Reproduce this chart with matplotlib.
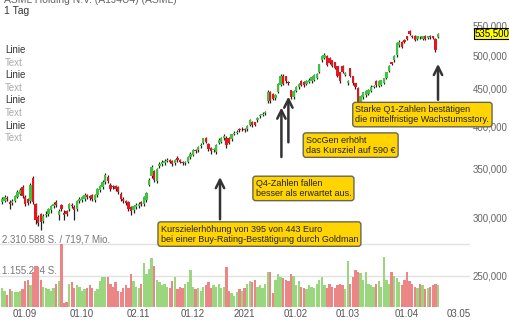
import numpy as np
import pandas as pd
import matplotlib
matplotlib.use('Agg')
import matplotlib.pyplot as plt
from matplotlib.ticker import FixedLocator, NullLocator, FuncFormatter

plt.rcParams['font.family'] = ['Liberation Sans', 'DejaVu Sans']

# daily candles, ASML (EUR), 19.08.2020 - 21.04.2021
opens = [315, 316, 319, 315, 314, 316, 320, 323, 330, 320,
         318, 316, 340, 313, 301, 304, 297, 303, 304, 307,
         311, 315, 303, 312, 305, 306, 308, 312, 310, 308,
         316, 317, 318, 322, 321, 322, 317, 322, 327, 330,
         336, 341, 333, 332, 331, 330, 323, 318, 316, 315,
         310, 307, 310, 311, 315, 313, 317, 333, 342, 347,
         337, 353, 355, 356, 359, 360, 359, 356, 362, 360,
         358, 356, 358, 363, 366, 371, 371, 376, 380, 385,
         378, 374, 371, 369, 380, 381, 385, 386, 386, 384,
         391, 392, 397, 396, 397, 396, 402, 406, 405, 408,
         413, 415, 417, 433, 445, 443, 437, 446, 456, 468,
         468, 460, 448, 438, 447, 452, 461, 460, 457, 460,
         461, 463, 466, 475, 492, 496, 499, 496, 492, 489,
         483, 474, 483, 470, 458, 480, 468, 458, 451, 431,
         438, 441, 443, 447, 453, 461, 454, 456, 459, 466,
         476, 489, 492, 500, 516, 521, 524, 531, 540, 531,
         532, 526, 530, 526, 532, 528, 532, 531, 527, 530]
closes = [318, 320, 318, 313, 316, 321, 325, 327, 321, 313,
          314, 333, 315, 298, 295, 296, 302, 304, 308, 311,
          313, 312, 306, 308, 303, 304, 313, 311, 307, 316,
          318, 320, 322, 320, 319, 318, 322, 328, 332, 336,
          343, 337, 328, 330, 328, 325, 318, 316, 314, 308,
          306, 311, 312, 313, 313, 320, 324, 338, 352, 338,
          350, 355, 358, 359, 360, 358, 355, 360, 360, 358,
          356, 358, 363, 367, 371, 370, 375, 377, 385, 381,
          372, 370, 372, 377, 383, 386, 388, 377, 380, 390,
          392, 393, 395, 397, 395, 400, 408, 401, 402, 410,
          415, 416, 419, 446, 433, 436, 442, 457, 469, 457,
          461, 458, 438, 447, 452, 457, 456, 455, 461, 463,
          467, 470, 471, 486, 499, 501, 485, 488, 484, 481,
          469, 461, 475, 473, 461, 469, 458, 452, 432, 440,
          445, 447, 449, 453, 454, 455, 461, 462, 465, 474,
          484, 487, 499, 520, 522, 513, 521, 527, 535, 530,
          525, 531, 529, 531, 526, 531, 529, 528, 509, 535.5]
highs = [320, 322, 321, 317, 318, 322, 327, 329, 333, 322,
         319, 335, 342, 314, 303, 305, 304, 306, 309, 312,
         315, 317, 308, 313, 307, 307, 314, 314, 312, 317,
         320, 321, 324, 323, 322, 323, 323, 329, 333, 338,
         345, 343, 335, 333, 333, 331, 325, 320, 317, 316,
         311, 312, 314, 315, 316, 321, 325, 340, 354, 349,
         351, 357, 360, 361, 362, 361, 360, 361, 364, 361,
         359, 359, 364, 369, 372, 373, 376, 379, 386, 387,
         379, 375, 374, 378, 385, 387, 390, 388, 387, 391,
         394, 395, 398, 399, 398, 401, 409, 407, 406, 412,
         416, 418, 420, 448, 447, 444, 443, 458, 471, 471,
         469, 461, 449, 448, 454, 459, 462, 461, 463, 465,
         468, 471, 473, 487, 500, 503, 501, 497, 493, 490,
         484, 475, 485, 474, 462, 481, 469, 459, 452, 441,
         446, 448, 450, 455, 456, 462, 462, 463, 466, 475,
         485, 490, 500, 521, 524, 523, 526, 532, 541, 533,
         533, 532, 531, 532, 533, 532, 533, 532, 528, 537]
lows = [313, 315, 316, 308, 312, 315, 319, 322, 319, 311,
        312, 314, 313, 294, 292, 289, 295, 301, 302, 305,
        309, 310, 298, 306, 298, 302, 306, 309, 298, 306,
        314, 315, 316, 318, 317, 316, 315, 320, 325, 328,
        334, 335, 326, 328, 326, 323, 316, 314, 312, 306,
        303, 305, 308, 309, 311, 311, 315, 331, 340, 336,
        335, 351, 353, 354, 357, 356, 353, 354, 358, 356,
        354, 354, 356, 361, 364, 368, 369, 374, 378, 379,
        370, 367, 369, 367, 378, 379, 383, 374, 378, 382,
        389, 390, 393, 394, 393, 394, 400, 399, 400, 406,
        411, 413, 415, 430, 431, 434, 435, 444, 454, 455,
        459, 456, 436, 436, 445, 450, 454, 453, 455, 458,
        459, 461, 464, 473, 490, 494, 483, 486, 482, 479,
        467, 459, 473, 468, 456, 467, 456, 450, 429, 428,
        436, 439, 441, 445, 451, 453, 452, 454, 457, 464,
        474, 485, 490, 498, 514, 511, 519, 525, 533, 528,
        523, 524, 527, 524, 524, 526, 527, 526, 506, 528]
# volume in Mio. shares
volume = [0.70, 0.60, 0.45, 0.65, 0.60, 0.55, 0.55, 0.60, 0.65, 0.95,
          1.00, 0.80, 1.30, 1.50, 1.45, 1.00, 0.75, 0.70, 0.65, 0.60,
          0.70, 0.85, 0.95, 2.30, 0.15, 0.20, 0.85, 0.90, 0.70, 0.80,
          0.75, 0.60, 0.65, 0.70, 0.80, 0.70, 0.60, 0.65, 0.95, 1.10,
          1.10, 1.10, 0.85, 0.75, 0.90, 0.60, 0.55, 0.70, 0.80, 0.70,
          1.20, 0.95, 0.75, 0.70, 0.85, 1.60, 1.20, 1.40, 1.80, 1.50,
          1.00, 0.90, 0.80, 0.85, 0.75, 0.70, 0.95, 1.10, 0.65, 0.75,
          0.70, 0.85, 0.90, 1.35, 0.75, 0.65, 0.70, 0.60, 0.75, 0.80,
          0.90, 0.70, 0.80, 0.75, 0.85, 0.70, 0.75, 1.45, 0.60, 0.50,
          0.40, 0.55, 0.65, 0.60, 0.70, 0.85, 0.95, 0.90, 1.00, 0.75,
          0.80, 0.70, 0.85, 1.30, 1.30, 0.50, 1.00, 1.20, 1.10, 1.05,
          1.00, 0.95, 1.20, 1.15, 0.80, 0.95, 0.75, 0.70, 0.65, 0.80,
          0.75, 0.70, 0.85, 1.00, 1.10, 0.80, 0.70, 0.85, 0.75, 0.70,
          0.80, 0.85, 0.80, 0.65, 1.70, 0.85, 1.10, 1.35, 1.30, 1.25,
          1.00, 1.30, 0.85, 0.80, 0.75, 0.85, 0.95, 0.75, 1.85, 1.00,
          0.85, 1.30, 1.15, 1.05, 0.90, 0.80, 1.00, 1.30, 0.95, 0.85,
          0.75, 0.70, 0.85, 0.80, 0.65, 0.70, 0.75, 0.80, 0.85, 0.80]

holidays = ['2020-12-24', '2020-12-25', '2020-12-31', '2021-01-01', '2021-04-02', '2021-04-05']
tick_dates = ['2020-09-01', '2020-10-01', '2020-11-02', '2020-12-01', '2021-01-04',
              '2021-02-01', '2021-03-01', '2021-04-01', '2021-05-03']
tick_labels = ['01.09', '01.10', '02.11', '01.12', '2021', '01.02', '01.03', '01.04', '03.05']
price_ticks = [250, 300, 350, 400, 450, 500, 550]
vol_lines = [1155294, 2310588]

side_labels = ['Linie', 'Text', 'Linie', 'Text', 'Linie', 'Text', 'Linie', 'Text']

notes = [
    (84.5, 344, 296, 61.5, 285, 'Kurszielerhöhung von 395 von 443 Euro\nbei einer Buy-Rating-Bestätigung durch Goldman'),
    (108.3, 428, 360, 98.3, 329, 'Q4-Zahlen fallen\nbesser als erwartet aus.'),
    (111.0, 443, 377, 117.8, 377, 'SocGen erhöht\ndas Kursziel auf 590 €'),
    (169.0, 491, 431, 137.0, 415, 'Starke Q1-Zahlen bestätigen\ndie mittelfristige Wachstumsstory.'),
]

cal = pd.bdate_range('2020-08-19', '2021-05-03', freq='C', holidays=holidays)
days = pd.Series(np.arange(len(cal)), index=cal)
x = np.arange(len(closes))
tick_pos = [days[pd.Timestamp(d)] for d in tick_dates]

o = np.array(opens) * 1000
c = np.array(closes) * 1000
h = np.array(highs) * 1000
l = np.array(lows) * 1000
v = np.array(volume) * 1e6
up = c >= o

W, H = 510, 320
fig = plt.figure(figsize=(5.1, 3.2), dpi=100)
rect = [0, 13 / H, 470 / W, 307 / H]
axv = fig.add_axes(rect)
ax = fig.add_axes(rect)
ax.patch.set_alpha(0)
xlim = (-0.78, 181.4)

# volume panel
axv.set_xlim(*xlim)
axv.set_ylim(0, 11.26e6)
for yv in vol_lines:
    axv.axhline(yv, color='#e2e2e2', lw=1, zorder=0)
axv.bar(x, v, width=0.9, color=np.where(up, '#9ad67e', '#ec8585'), zorder=2)
axv.annotate('2.310.588 S. / 719,7 Mio.', xy=(0, vol_lines[1]), xycoords=('axes fraction', 'data'),
             xytext=(1.5, 3.6), textcoords='offset points', va='center', fontsize=7, color='#777777', zorder=1)
axv.annotate('1.155.294 S.', xy=(0, vol_lines[0]), xycoords=('axes fraction', 'data'),
             xytext=(1.5, 3.6), textcoords='offset points', va='center', fontsize=7, color='#777777', zorder=1)
axv.axis('off')

# candles
ax.set_yscale('log')
ax.set_xlim(*xlim)
ax.set_ylim(226600, 595000)
ax.vlines(x, l, h, color='#222222', lw=0.9, zorder=2)
ax.bar(x, np.maximum(np.abs(c - o), 700), bottom=np.minimum(o, c), width=0.9,
       color=np.where(up, '#3cc43c', '#e8161c'), zorder=3)

for s in ax.spines.values():
    s.set_visible(False)
ax.yaxis.tick_right()
ax.yaxis.set_major_locator(FixedLocator([p * 1000 for p in price_ticks]))
ax.yaxis.set_minor_locator(NullLocator())
ax.yaxis.set_major_formatter(FuncFormatter(lambda val, pos: f'{val:,.0f}'))
ax.tick_params(axis='y', length=0, pad=2, labelsize=7, labelcolor='#666666')
ax.set_xticks(tick_pos)
ax.set_xticklabels(tick_labels)
ax.tick_params(axis='x', length=0, pad=1.5, labelsize=7, labelcolor='#555555')

# last price tag
ax.annotate(f'{closes[-1]:.3f}'.replace('.', ','), xy=(1, c[-1]), xycoords=('axes fraction', 'data'),
            xytext=(3, 0), textcoords='offset points', va='center', ha='left', fontsize=7, color='black',
            bbox=dict(boxstyle='square,pad=0.05', fc='#ffff00', ec='black', lw=0.8), annotation_clip=False)

# news markers
for xa, tip, tail, xt, yt, txt in notes:
    ax.annotate('', xy=(xa, tip * 1000), xytext=(xa, tail * 1000),
                arrowprops=dict(arrowstyle='->', lw=1.8, color='#333333', mutation_scale=15), zorder=5)
    ax.text(xt, yt * 1000, txt, fontsize=6.5, color='#222222', va='center', ha='left', linespacing=1.15,
            bbox=dict(boxstyle='round,pad=0.3', fc='#ffd400', ec='#666655', lw=1), zorder=6, clip_on=False)

fig.text(4 / W, 1 - 0 / H, 'ASML Holding N.V. (A1J4U4) (ASML)', fontsize=7.5, color='#666666', va='center')
fig.text(4 / W, 1 - 10.5 / H, '1 Tag', fontsize=7.5, color='#333333', va='center')
for k, lab in enumerate(side_labels):
    fig.text(5 / W, 1 - (50 + 12.6 * k) / H, lab, fontsize=7, va='center',
             color='#333333' if lab == 'Linie' else '#aaaaaa')

fig.savefig('out.png', dpi=100)
